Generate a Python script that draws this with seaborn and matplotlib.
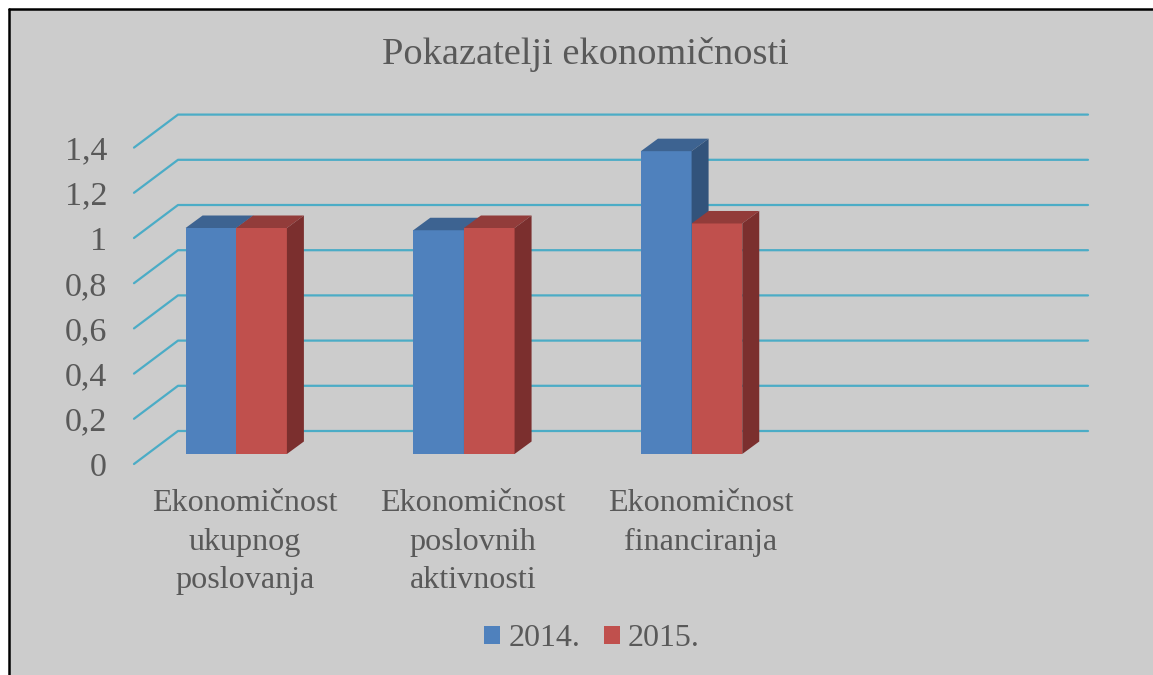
import matplotlib
matplotlib.use("Agg")
import matplotlib.pyplot as plt
import matplotlib.transforms as mtransforms
from matplotlib.patches import Polygon, Rectangle, Patch
from matplotlib.lines import Line2D
import pandas as pd
import seaborn as sns

# data
categories = ["Ekonomičnost\nukupnog\nposlovanja",
              "Ekonomičnost\nposlovnih\naktivnosti",
              "Ekonomičnost\nfinanciranja"]
years = ["2014.", "2015."]
values_2014 = [1.00, 0.99, 1.34]
values_2015 = [1.00, 1.00, 1.02]
y_ticks = [0, 0.2, 0.4, 0.6, 0.8, 1.0, 1.2, 1.4]
y_tick_labels = ["0", "0,2", "0,4", "0,6", "0,8", "1", "1,2", "1,4"]

df = pd.DataFrame({
    "kategorija": categories * 2,
    "godina": [years[0]] * 3 + [years[1]] * 3,
    "vrijednost": values_2014 + values_2015,
})

BG = "#cccccc"
TXT = "#595959"
GRID = "#4bacc6"
front = ["#4f81bd", "#c0504d"]
top = ["#3d6391", "#923c3a"]
side = ["#32537b", "#7b2f2e"]

sns.set_theme(style="white")
plt.rcParams["font.family"] = ["Liberation Serif", "DejaVu Serif"]

W, H = 1153, 675
fig = plt.figure(figsize=(W / 100, H / 100), dpi=100, facecolor="white")

# grey chart area with the black frame on the left/top
fig.patches.append(Rectangle((9 / W, 0), 1, 1 - 9 / H, transform=fig.transFigure,
                             fc=BG, ec="none", zorder=-5))
fig.lines.append(Line2D([9 / W, 9 / W], [0, 1 - 9 / H], transform=fig.transFigure,
                        color="black", lw=1.8, zorder=-4))
fig.lines.append(Line2D([9 / W, 1], [1 - 9 / H, 1 - 9 / H], transform=fig.transFigure,
                        color="black", lw=1.8, zorder=-4))

# axes = the plane the bar fronts stand in
left, right, bottom, topy = 147, 1057, 454, 137.6
ax = fig.add_axes([left / W, 1 - bottom / H, (right - left) / W, (bottom - topy) / H])
ax.set_facecolor("none")

sns.barplot(data=df, x="kategorija", y="vrijednost", hue="godina", palette=front,
            width=0.445, saturation=1, legend=False, ax=ax)
ax.set_xlim(-0.392, 3.605)
ax.set_ylim(0, 1.4)
sns.despine(ax=ax, left=True, bottom=True)
ax.set_xlabel("")
ax.set_ylabel("")

ident = mtransforms.IdentityTransform()
td = ax.transData
x_lo, x_hi = ax.get_xlim()

# back wall gridlines + floor diagonals
for v in y_ticks:
    pl = td.transform((x_lo, v))
    pr = td.transform((x_hi, v))
    ax.add_line(Line2D([pl[0] - 13, pl[0] + 31, pr[0] + 31],
                       [pl[1] - 10, pl[1] + 23, pr[1] + 23],
                       transform=ident, color=GRID, lw=1.6, zorder=0.5, clip_on=False))

# fake 3D depth for bars
dx, dy = 17, 12.5
for i, p in enumerate(ax.patches):
    h = i // len(categories)
    p.set_zorder(2 + 2 * h)
    p.set_edgecolor("none")
    x0, y0 = td.transform((p.get_x(), 0))
    x1, y1 = td.transform((p.get_x() + p.get_width(), p.get_height()))
    ax.add_patch(Polygon([(x0, y1), (x1, y1), (x1 + dx, y1 + dy), (x0 + dx, y1 + dy)],
                         closed=True, transform=ident, fc=top[h], ec="none",
                         zorder=2.5 + 2 * h, clip_on=False))
    ax.add_patch(Polygon([(x1, y0), (x1, y1), (x1 + dx, y1 + dy), (x1 + dx, y0 + dy)],
                         closed=True, transform=ident, fc=side[h], ec="none",
                         zorder=2.5 + 2 * h, clip_on=False))

ax.set_yticks(y_ticks, y_tick_labels)
ax.tick_params(axis="y", length=0, pad=28.8, labelsize=24.5, labelcolor=TXT)
ax.tick_params(axis="x", length=0, pad=25.5, labelsize=23.1, labelcolor=TXT)
for lab in ax.get_yticklabels():
    lab.set_transform(lab.get_transform()
                      + mtransforms.ScaledTranslation(0, -0.10, fig.dpi_scale_trans))
for lab in ax.get_xticklabels():
    lab.set_linespacing(1.43)
    lab.set_transform(lab.get_transform()
                      + mtransforms.ScaledTranslation(0.09, 0, fig.dpi_scale_trans))

fig.text(585 / W, 1 - 54 / H, "Pokazatelji ekonomičnosti", ha="center", va="center",
         fontsize=27.6, color=TXT)

handles = [Patch(fc=front[0], ec="none"), Patch(fc=front[1], ec="none")]
fig.legend(handles, years, loc="center", bbox_to_anchor=(592 / W, 1 - 639 / H),
           ncol=2, frameon=False, fontsize=23, labelcolor=TXT,
           handlelength=0.5, handleheight=0.5, handletextpad=0.25, columnspacing=0.75)

fig.savefig("out.png", dpi=100, facecolor=fig.get_facecolor())
